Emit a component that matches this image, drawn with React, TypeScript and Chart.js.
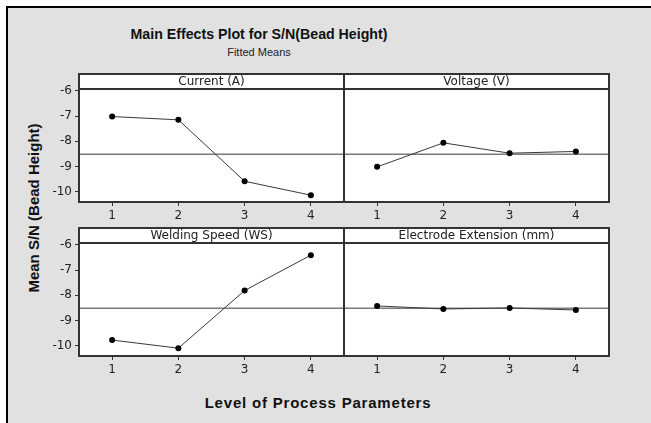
import React, { useEffect, useRef } from 'react';
import { Chart, registerables } from 'chart.js';

Chart.register(...registerables);

// ---- data ----
const LEVELS = ['1', '2', '3', '4'];
const PANEL_TITLES = ['Current (A)', 'Voltage (V)', 'Welding Speed (WS)', 'Electrode Extension (mm)'];
const CURRENT = [-7.02, -7.15, -9.58, -10.13];
const VOLTAGE = [-9.01, -8.06, -8.47, -8.4];
const WELDING_SPEED = [-9.77, -10.09, -7.81, -6.41];
const ELECTRODE_EXTENSION = [-8.42, -8.54, -8.5, -8.58];
const Y_TICKS = [-10, -9, -8, -7, -6];
const GRAND_MEAN = -8.51;
const Y_MIN = -10.4;
const Y_MAX = -5.93;

const TITLE = 'Main Effects Plot for S/N(Bead Height)';
const SUBTITLE = 'Fitted Means';
const Y_TITLE = 'Mean S/N (Bead Height)';
const X_TITLE = 'Level of Process Parameters';

const HEADER_H = 15;
const FRAME = '#333333';

type PanelProps = {
  title: string;
  values: number[];
  showY: boolean;
  L: number;
  T: number;
  R: number;
  B: number;
};

function Panel({ title, values, showY, L, T, R, B }: PanelProps) {
  const ref = useRef<HTMLCanvasElement>(null);
  const axisW = 45;
  const padL = showY ? 0 : 3;
  const padR = 3;
  const padT = 20;
  const padB = 25;
  const left = L - (showY ? axisW : padL);
  const top = T - padT;
  const width = R - L + (showY ? axisW : padL) + padR;
  const height = B - T + padT + padB;

  useEffect(() => {
    if (!ref.current) return;
    const panelPlugin = {
      id: 'panelDeco',
      beforeDraw(chart: any) {
        const { ctx, chartArea: a } = chart;
        ctx.save();
        ctx.fillStyle = '#ffffff';
        ctx.fillRect(a.left, a.top - HEADER_H, a.right - a.left, a.bottom - a.top + HEADER_H);
        ctx.fillStyle = '#222222';
        ctx.font = '12px "DejaVu Sans"';
        ctx.textAlign = 'center';
        ctx.textBaseline = 'middle';
        ctx.fillText(title, (a.left + a.right) / 2, a.top - HEADER_H / 2 + 0.5);
        ctx.restore();
      },
      beforeDatasetsDraw(chart: any) {
        const { ctx, chartArea: a } = chart;
        const y = chart.scales.y.getPixelForValue(GRAND_MEAN);
        ctx.save();
        ctx.strokeStyle = '#7a7a7a';
        ctx.lineWidth = 1.5;
        ctx.beginPath();
        ctx.moveTo(a.left, y);
        ctx.lineTo(a.right, y);
        ctx.stroke();
        ctx.restore();
      },
      afterDraw(chart: any) {
        const { ctx, chartArea: a } = chart;
        ctx.save();
        ctx.strokeStyle = FRAME;
        ctx.lineWidth = 2;
        ctx.strokeRect(a.left, a.top - HEADER_H, a.right - a.left, a.bottom - a.top + HEADER_H);
        ctx.beginPath();
        ctx.moveTo(a.left, a.top);
        ctx.lineTo(a.right, a.top);
        ctx.stroke();
        ctx.restore();
      },
    };

    const chart = new Chart(ref.current, {
      type: 'line',
      data: {
        labels: LEVELS,
        datasets: [
          {
            data: values,
            borderColor: '#3a3a3a',
            borderWidth: 1,
            pointRadius: 3,
            pointBackgroundColor: '#000000',
            pointBorderWidth: 0,
            pointHoverRadius: 3,
            tension: 0,
            clip: false as any,
          },
        ],
      },
      options: {
        responsive: false,
        animation: false,
        events: [],
        layout: {
          autoPadding: false,
          padding: { left: padL, right: padR, top: padT, bottom: 0 },
        },
        plugins: { legend: { display: false }, tooltip: { enabled: false }, title: { display: false } },
        scales: {
          x: {
            type: 'category',
            offset: true,
            grid: {
              offset: false,
              drawOnChartArea: false,
              drawTicks: true,
              tickLength: 4,
              color: FRAME,
              lineWidth: 1,
            },
            border: { display: false },
            ticks: {
              color: '#222222',
              font: { family: 'DejaVu Sans', size: 12 },
              padding: 3,
              maxRotation: 0,
            },
            afterFit(scale: any) {
              scale.height = padB;
            },
          },
          y: {
            type: 'linear',
            display: showY,
            min: Y_MIN,
            max: Y_MAX,
            afterBuildTicks(scale: any) {
              scale.ticks = Y_TICKS.map((v) => ({ value: v }));
            },
            grid: {
              drawOnChartArea: false,
              drawTicks: true,
              tickLength: 4,
              color: FRAME,
              lineWidth: 1,
            },
            border: { display: false },
            ticks: {
              color: '#222222',
              font: { family: 'DejaVu Sans', size: 12 },
              padding: 3,
              callback: (v: any) => String(v),
            },
            afterFit(scale: any) {
              scale.width = showY ? axisW : 0;
            },
          },
        },
      } as any,
      plugins: [panelPlugin],
    });
    return () => chart.destroy();
  }, []);

  return (
    <canvas
      ref={ref}
      width={width}
      height={height}
      style={{ position: 'absolute', left, top, width, height }}
    />
  );
}

export default function App() {
  const sans = '"Liberation Sans", Arial, sans-serif';
  return (
    <div
      style={{
        position: 'absolute',
        left: 0,
        top: 0,
        width: 651,
        height: 423,
        background: '#ffffff',
        overflow: 'hidden',
      }}
    >
      <div
        style={{
          position: 'absolute',
          left: 6,
          top: 6,
          width: 645,
          height: 417,
          background: '#e1e1e1',
          borderLeft: '2px solid #000',
          borderTop: '2px solid #000',
          boxSizing: 'border-box',
        }}
      />
      <div
        style={{
          position: 'absolute',
          left: 259,
          top: 26,
          transform: 'translateX(-50%)',
          whiteSpace: 'nowrap',
          font: `bold 14.2px ${sans}`,
          lineHeight: '16px',
          color: '#111',
        }}
      >
        {TITLE}
      </div>
      <div
        style={{
          position: 'absolute',
          left: 259,
          top: 46,
          transform: 'translateX(-50%)',
          whiteSpace: 'nowrap',
          font: `11px ${sans}`,
          lineHeight: '13px',
          color: '#222',
        }}
      >
        {SUBTITLE}
      </div>
      <div
        style={{
          position: 'absolute',
          left: 33,
          top: 208,
          transform: 'translate(-50%, -50%) rotate(-90deg)',
          whiteSpace: 'nowrap',
          font: `bold 15px ${sans}`,
          lineHeight: '17px',
          color: '#111',
        }}
      >
        {Y_TITLE}
      </div>
      <div
        style={{
          position: 'absolute',
          left: 318,
          top: 394,
          transform: 'translateX(-50%)',
          whiteSpace: 'nowrap',
          font: `bold 15px ${sans}`,
          letterSpacing: '0.8px',
          lineHeight: '17px',
          color: '#111',
        }}
      >
        {X_TITLE}
      </div>
      <Panel title={PANEL_TITLES[0]} values={CURRENT} showY={true} L={79} T={89} R={344} B={202} />
      <Panel title={PANEL_TITLES[1]} values={VOLTAGE} showY={false} L={344} T={89} R={609} B={202} />
      <Panel title={PANEL_TITLES[2]} values={WELDING_SPEED} showY={true} L={79} T={243} R={344} B={356} />
      <Panel title={PANEL_TITLES[3]} values={ELECTRODE_EXTENSION} showY={false} L={344} T={243} R={609} B={356} />
    </div>
  );
}
